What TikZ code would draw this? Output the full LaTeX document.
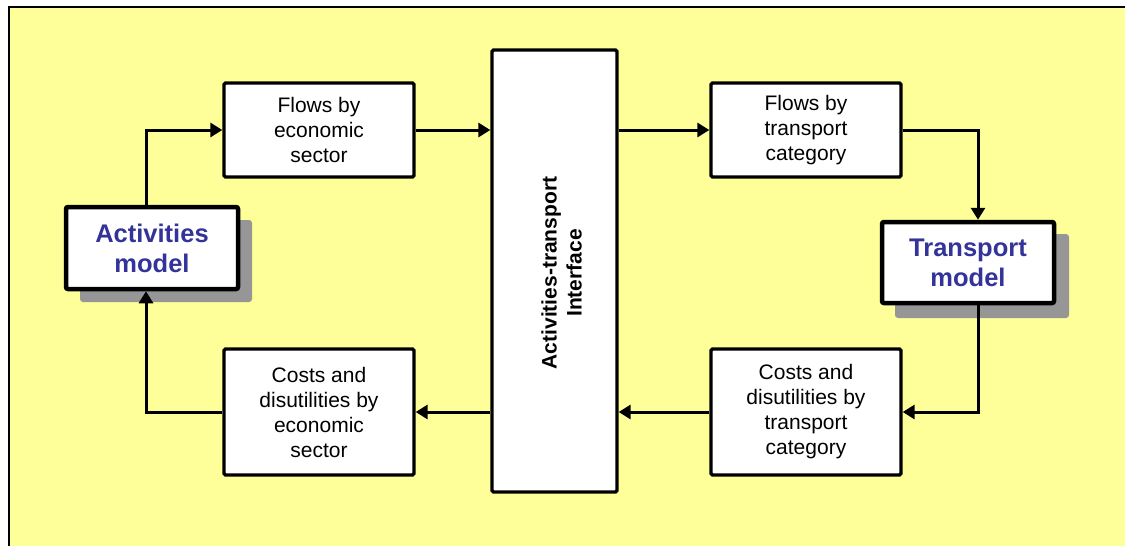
\documentclass[tikz,border=0pt]{standalone}
\usepackage{fontspec}
\setmainfont{Liberation Sans}
\usetikzlibrary{arrows.meta}
\definecolor{bgyellow}{RGB}{255,255,153}
\definecolor{modelblue}{RGB}{51,51,153}
\definecolor{shadowgray}{RGB}{150,150,150}
\tikzset{
  box/.style={draw=black, line width=3.3pt, fill=white, rounded corners=1.5pt,
    align=center, inner sep=0pt, minimum width=190pt,
    font=\fontsize{21}{25}\selectfont},
  model/.style={draw=black, line width=4.5pt, fill=white, rounded corners=2pt,
    align=center, inner sep=0pt, minimum width=172pt, minimum height=82pt,
    text=modelblue, font=\fontsize{25.5}{30}\selectfont\bfseries},
  shadowbox/.style={fill=shadowgray, rounded corners=3pt},
  conn/.style={draw=black, line width=3pt},
  arr/.style={conn, -{Triangle[length=12pt,width=14pt]}},
}
\begin{document}
\begin{tikzpicture}[x=1pt,y=-1pt]
\useasboundingbox (0,0) rectangle (1125,546);
\fill[white] (0,0) rectangle (1125,546);
\fill[bgyellow] (9,7) rectangle (1125,546);
\draw[black, line width=2.5pt] (9,546) -- (9,7) -- (1125,7);

% shadows
\fill[shadowbox] (80,220) rectangle (252,302);
\fill[shadowbox] (895,234) rectangle (1069,318);

% nodes
\node[model] (am) at (152,248) {Activities\\model};
\node[model, minimum height=81pt] (tm) at (968,262.5) {Transport\\model};
\node[box, minimum height=94pt] (fe) at (319,130) {Flows by\\economic\\sector};
\node[box, minimum height=126pt] (ce) at (319,412) {Costs and\\disutilities by\\economic\\sector};
\node[box, minimum height=94pt] (ft) at (806,130) {Flows by\\transport\\category};
\node[box, minimum height=126pt] (ct) at (806,412) {Costs and\\disutilities by\\transport\\category};
\node[draw=black, line width=3.3pt, fill=white, inner sep=0pt, rounded corners=1.5pt,
  minimum width=125pt, minimum height=442pt] (iface) at (554.5,271) {};
\node[rotate=90, align=center, inner sep=0pt,
  font=\fontsize{21}{25}\selectfont\bfseries] (ifacetxt) at ([xshift=7pt,yshift=-2pt]iface.center)
  {Activities-transport\\Interface};

% connectors
\draw[arr] ([xshift=-6pt]am.north) |- (fe.west);
\draw[arr] (fe.east) -- (iface.west |- fe.east);
\draw[arr] (iface.east |- ft.west) -- (ft.west);
\draw[arr] (ft.east) -| ([xshift=10pt]tm.north);
\draw[arr] ([xshift=10pt]tm.south) |- (ct.east);
\draw[arr] (ct.west) -- (iface.east |- ct.west);
\draw[arr] (iface.west |- ce.east) -- (ce.east);
\draw[arr] (ce.west) -| ([xshift=-6pt]am.south);
\end{tikzpicture}
\end{document}
